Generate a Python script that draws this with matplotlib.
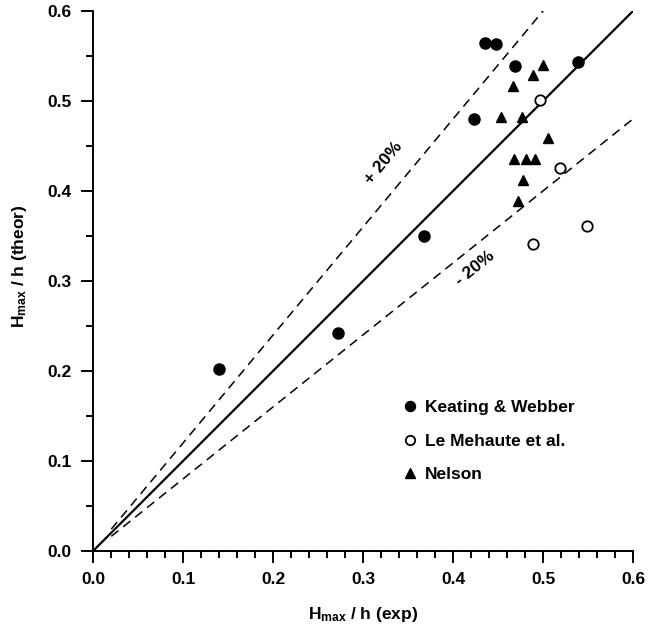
import numpy as np
import matplotlib
matplotlib.use("Agg")
import matplotlib.pyplot as plt
from matplotlib.ticker import MultipleLocator, FormatStrFormatter

plt.rcParams['font.family'] = ['Liberation Sans', 'DejaVu Sans']
plt.rcParams['font.weight'] = 'bold'
plt.rcParams['axes.labelweight'] = 'bold'
plt.rcParams['mathtext.fontset'] = 'custom'
plt.rcParams['mathtext.rm'] = 'Liberation Sans:bold'
plt.rcParams['mathtext.it'] = 'Liberation Sans:bold'
plt.rcParams['mathtext.bf'] = 'Liberation Sans:bold'

# Keating & Webber (filled circles)
kw_exp = [0.140, 0.272, 0.367, 0.423, 0.435, 0.447, 0.469, 0.539]
kw_theor = [0.202, 0.242, 0.350, 0.480, 0.564, 0.563, 0.539, 0.543]

# Le Mehaute et al. (open circles)
lm_exp = [0.496, 0.518, 0.549, 0.489]
lm_theor = [0.501, 0.425, 0.361, 0.341]

# Nelson (triangles)
ne_exp = [0.500, 0.489, 0.466, 0.453, 0.476, 0.505, 0.467, 0.481, 0.491, 0.477, 0.472]
ne_theor = [0.540, 0.529, 0.516, 0.482, 0.482, 0.459, 0.435, 0.435, 0.435, 0.412, 0.389]

# reference lines
perfect_x = [0.0, 0.6]
plus_x = [0.02, 0.5]
minus_x = [0.02, 0.6]

fig = plt.figure(figsize=(6.48, 6.29), dpi=100)
ax = fig.add_axes([93.3/648, 1-550.7/629, 540/648, 540/629])

ax.plot(perfect_x, perfect_x, color='black', lw=1.6)
ax.plot(plus_x, [1.2*v for v in plus_x], color='black', lw=1.1, linestyle=(0, (6, 4)))
ax.plot(minus_x, [0.8*v for v in minus_x], color='black', lw=1.1, linestyle=(0, (6, 4)))

ax.plot(kw_exp, kw_theor, 'o', color='black', ms=8, linestyle='None', label='Keating & Webber')
ax.plot(lm_exp, lm_theor, 'o', mfc='white', mec='black', mew=1.3, ms=7.5, linestyle='None', label='Le Mehaute et al.')
ax.plot(ne_exp, ne_theor, '^', color='black', ms=7.5, linestyle='None', label='Nelson')

ax.text(0.322, 0.431, '+ 20%', rotation=50.2, ha='center', va='center', rotation_mode='anchor',
        fontsize=12.5, fontweight='bold')
ax.text(0.424, 0.314, '- 20%', rotation=38.7, ha='center', va='center', rotation_mode='anchor',
        fontsize=12.5, fontweight='bold')

ax.set_xlim(0, 0.6)
ax.set_ylim(0, 0.6)
ax.xaxis.set_major_locator(MultipleLocator(0.1))
ax.xaxis.set_minor_locator(MultipleLocator(0.02))
ax.yaxis.set_major_locator(MultipleLocator(0.1))
ax.yaxis.set_minor_locator(MultipleLocator(0.05))
ax.xaxis.set_major_formatter(FormatStrFormatter('%.1f'))
ax.yaxis.set_major_formatter(FormatStrFormatter('%.1f'))
ax.tick_params(which='major', direction='out', length=8.6, width=1.4, labelsize=12.5, pad=7)
ax.tick_params(which='minor', direction='out', length=5, width=1.4)
for s in ['top', 'right']:
    ax.spines[s].set_visible(False)
for s in ['left', 'bottom']:
    ax.spines[s].set_linewidth(1.4)

ax.set_xlabel('H$_{max}$ / h (exp)', fontsize=12.5, fontweight='bold')
ax.set_ylabel('H$_{max}$ / h (theor)', fontsize=12.5, fontweight='bold')
ax.xaxis.set_label_coords(0.5, -0.1)
ax.yaxis.set_label_coords(-0.12, 0.526)

ax.legend(loc='center left', bbox_to_anchor=(401/648, 1-441/629), bbox_transform=fig.transFigure,
          frameon=False, fontsize=12.5, handlelength=1.0, handletextpad=0.4, labelspacing=1.07,
          borderpad=0, borderaxespad=0, numpoints=1, markerscale=0.9)

fig.savefig('out.png', dpi=100)
